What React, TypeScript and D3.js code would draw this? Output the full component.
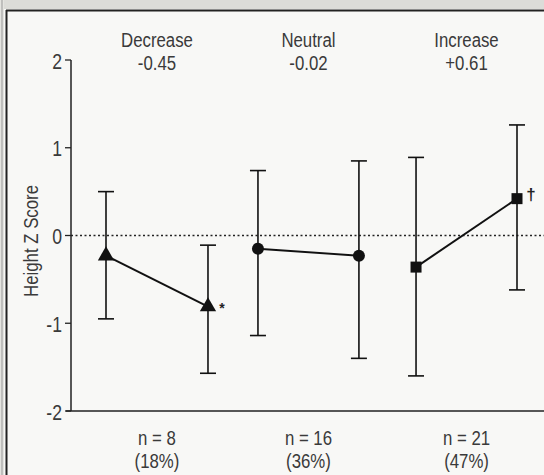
import React from "react";
import * as d3 from "d3";

// groups and their summary labels
const groups = ["Decrease", "Neutral", "Increase"];
const groupChange = ["-0.45", "-0.02", "+0.61"];
const groupN = ["n = 8", "n = 16", "n = 21"];
const groupPct = ["(18%)", "(36%)", "(47%)"];
const shapes = ["triangle", "circle", "square"];

// before / after means with error bar ends (height z score)
const meanBefore = [-0.23, -0.15, -0.36];
const meanAfter = [-0.81, -0.23, 0.42];
const hiBefore = [0.5, 0.74, 0.89];
const loBefore = [-0.95, -1.14, -1.6];
const hiAfter = [-0.11, 0.85, 1.26];
const loAfter = [-1.57, -1.4, -0.62];
const marks = ["*", "", "†"];

const yTicks = [2, 1, 0, -1, -2];

const W = 544;
const H = 475;
const font = "'Liberation Sans', Arial, sans-serif";

// narrow label, like the condensed face in the print
const Label = ({ x, y, children, size = 21, anchor = "middle", rotate = 0 }: any) => (
  <g transform={`translate(${x},${y}) rotate(${rotate}) scale(0.8,1)`}>
    <text textAnchor={anchor} fontSize={size} fill="#3a3a3a" dy="0.35em">
      {children}
    </text>
  </g>
);

export default function App() {
  const x0 = 71;
  const y = d3.scaleLinear().domain([-2, 2]).range([411, 60]);
  // position of each measurement along x (two per group)
  const x = d3.scaleLinear().domain([0, 4.03]).range([106, 517]);
  const slot = [0, 1, 1.49, 2.48, 3.04, 4.03];
  const xs = (g: number, k: number) => x(slot[g * 2 + k]);

  const sym = (shape: string, cx: number, cy: number) => {
    if (shape === "triangle") {
      const p = d3.symbol(d3.symbolTriangle, 115)();
      return <path d={p || ""} transform={`translate(${cx},${cy})`} fill="#111" />;
    }
    if (shape === "circle") return <circle cx={cx} cy={cy} r={6} fill="#111" />;
    return <rect x={cx - 5.5} y={cy - 5.5} width={11} height={11} fill="#111" />;
  };

  const errBar = (cx: number, lo: number, hi: number) => (
    <g stroke="#111" strokeWidth={1.6}>
      <line x1={cx} x2={cx} y1={y(lo)} y2={y(hi)} />
      <line x1={cx - 8} x2={cx + 8} y1={y(hi)} y2={y(hi)} />
      <line x1={cx - 8} x2={cx + 8} y1={y(lo)} y2={y(lo)} />
    </g>
  );

  return (
    <svg width={W} height={H} style={{ position: "absolute", left: 0, top: 0 }} fontFamily={font}>
      <rect x={0} y={0} width={W} height={H} fill="#f8f8f6" />
      <rect x={0} y={0} width={W} height={9} fill="#dcdcd8" />
      <rect x={0} y={0} width={4} height={H} fill="#e4e4e0" />
      <line x1={2} x2={2} y1={0} y2={H} stroke="#999" strokeWidth={1} />
      <line x1={6.5} x2={6.5} y1={10} y2={H} stroke="#222" strokeWidth={2} />
      <line x1={6} x2={W} y1={10.5} y2={10.5} stroke="#222" strokeWidth={2} />

      {/* axes */}
      <line x1={x0} x2={x0} y1={y(2)} y2={y(-2)} stroke="#222" strokeWidth={1.5} />
      <line x1={x0 - 5} x2={W} y1={y(-2)} y2={y(-2)} stroke="#222" strokeWidth={1.5} />
      {yTicks.map((t) => (
        <g key={t}>
          <line x1={x0 - 6} x2={x0} y1={y(t)} y2={y(t)} stroke="#222" strokeWidth={1.3} />
          <Label x={x0 - 9} y={y(t) + 1} anchor="end" size={22}>
            {t < 0 ? `-${-t}` : t}
          </Label>
        </g>
      ))}
      <line x1={x0} x2={W} y1={y(0)} y2={y(0)} stroke="#222" strokeWidth={1.4} strokeDasharray="2,2.5" />
      <Label x={31} y={241} rotate={-90} size={21}>
        Height Z Score
      </Label>

      {groups.map((gname, g) => {
        const a = xs(g, 0);
        const b = xs(g, 1);
        const c = (a + b) / 2;
        return (
          <g key={gname}>
            {errBar(a, loBefore[g], hiBefore[g])}
            {errBar(b, loAfter[g], hiAfter[g])}
            <line x1={a} x2={b} y1={y(meanBefore[g])} y2={y(meanAfter[g])} stroke="#111" strokeWidth={2} />
            {sym(shapes[g], a, y(meanBefore[g]))}
            {sym(shapes[g], b, y(meanAfter[g]))}
            {marks[g] && (
              <text x={b + 14} y={y(meanAfter[g]) + (marks[g] === "*" ? 4 : -2)} textAnchor="middle" fontSize={marks[g] === "*" ? 14 : 17} fontWeight="bold" fill="#222" dy="0.2em">
                {marks[g]}
              </text>
            )}
            <Label x={c} y={40}>{gname}</Label>
            <Label x={c} y={63}>{groupChange[g]}</Label>
            <Label x={c} y={438}>{groupN[g]}</Label>
            <Label x={c} y={461}>{groupPct[g]}</Label>
          </g>
        );
      })}
    </svg>
  );
}
